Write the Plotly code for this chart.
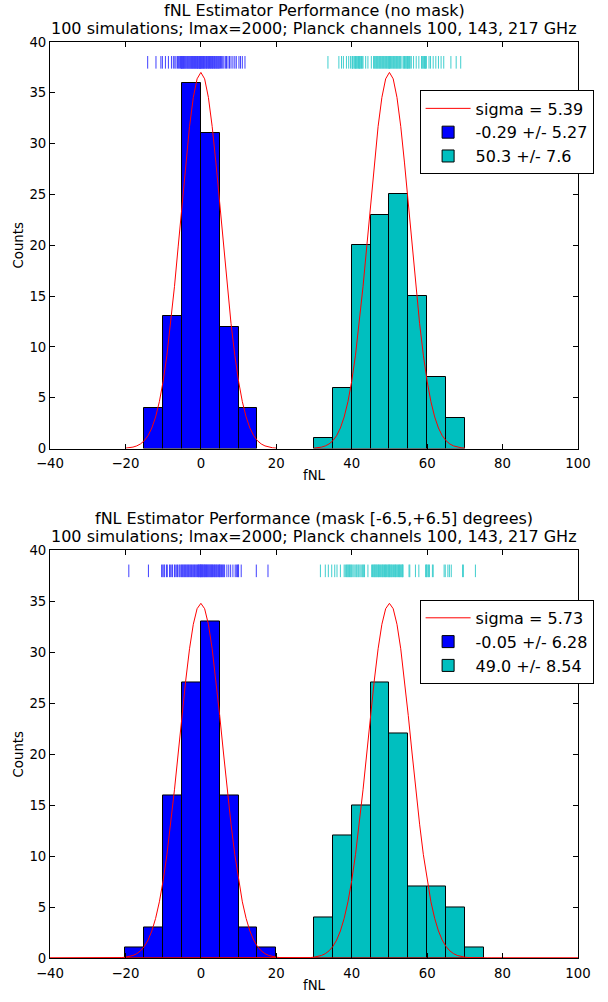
import numpy as np
import plotly.graph_objects as go

# ---------------- data ----------------
bin_width = 5
n_sims = 100
gauss_centers = [0, 50]

# top panel (no mask)
top_blue_bins = [-15, -10, -5, 0, 5, 10]            # left bin edges
top_blue_counts = [4, 13, 36, 31, 12, 4]
top_cyan_bins = [30, 35, 40, 45, 50, 55, 60, 65]
top_cyan_counts = [1, 6, 20, 23, 25, 15, 7, 3]
top_sigma = 5.39
top_labels = ["sigma = 5.39", "-0.29 +/- 5.27", "50.3 +/- 7.6"]
top_title = ["fNL Estimator Performance (no mask)",
             "100 simulations; lmax=2000; Planck channels 100, 143, 217 GHz"]

top_blue_rug = [-14.1, -11.9, -10.6, -10.2,
                -9.4, -8.6, -7.8, -7.3, -6.9, -6.6, -6.2, -5.9, -5.7, -5.4, -5.2, -5.1, -5.05,
                -4.9, -4.8, -4.6, -4.5, -4.3, -4.2, -4.0, -3.9, -3.7, -3.5, -3.4, -3.2, -3.1,
                -2.9, -2.8, -2.6, -2.5, -2.3, -2.2, -2.0, -1.9, -1.7, -1.6, -1.4, -1.3, -1.2,
                -1.0, -0.9, -0.8, -0.7, -0.5, -0.4, -0.3, -0.2, -0.15, -0.05,
                0.1, 0.2, 0.4, 0.5, 0.7, 0.8, 1.0, 1.1, 1.3, 1.5, 1.6, 1.8, 2.0, 2.1, 2.3, 2.5,
                2.6, 2.8, 3.0, 3.1, 3.3, 3.5, 3.6, 3.8, 4.0, 4.1, 4.3, 4.5, 4.6, 4.8, 4.9,
                5.2, 5.5, 5.8, 6.1, 6.5, 6.8, 7.2, 7.6, 8.0, 8.5, 9.0, 9.4,
                10.1, 10.5, 11.0, 11.7]
top_cyan_rug = [33.7,
                36.6, 37.3, 37.8, 38.6, 39.2, 39.7,
                40.1, 40.2, 40.3, 40.6, 40.8, 41.0, 41.1, 41.2, 41.4, 41.6, 41.8, 42.0, 42.1,
                42.2, 42.4, 42.6, 42.8, 43.0, 43.7, 44.3,
                45.2, 45.8, 46.0, 46.2, 46.4, 46.6, 46.8, 47.0, 47.2, 47.4, 47.6, 47.8, 48.0,
                48.2, 48.4, 48.6, 48.8, 49.0, 49.2, 49.4, 49.6, 49.8, 49.9,
                50.0, 50.1, 50.3, 50.5, 50.7, 50.9, 51.1, 51.3, 51.5, 51.7, 51.9, 52.1, 52.3,
                52.5, 52.7, 52.9, 53.1, 53.6, 53.8, 54.0, 54.2, 54.4, 54.6, 54.8, 54.9,
                55.1, 55.3, 55.5, 55.8, 56.4, 57.1, 57.8, 58.5, 58.7, 58.9, 59.1, 59.3, 59.5,
                59.6, 59.8,
                60.5, 60.9, 61.6, 62.3, 63.0, 63.7, 64.4,
                66.3, 67.7, 68.9]

# bottom panel (mask)
bot_blue_bins = [-20, -15, -10, -5, 0, 5, 10, 15]
bot_blue_counts = [1, 3, 16, 27, 33, 16, 3, 1]
bot_cyan_bins = [30, 35, 40, 45, 50, 55, 60, 65, 70]
bot_cyan_counts = [4, 12, 15, 27, 22, 7, 7, 5, 1]
bot_sigma = 5.73
bot_labels = ["sigma = 5.73", "-0.05 +/- 6.28", "49.0 +/- 8.54"]
bot_title = ["fNL Estimator Performance (mask [-6.5,+6.5] degrees)",
             "100 simulations; lmax=2000; Planck channels 100, 143, 217 GHz"]

bot_blue_rug = [-19.1,
                -13.9, -10.4, -10.1,
                -9.8, -9.6, -9.1, -8.9, -8.3, -8.1, -7.7, -7.5, -7.0, -6.8, -6.4, -6.2, -5.8,
                -5.6, -5.3, -5.1,
                -4.9, -4.7, -4.5, -4.3, -4.1, -3.9, -3.7, -3.5, -3.3, -3.1, -2.9, -2.7, -2.5,
                -2.3, -2.1, -1.9, -1.7, -1.5, -1.3, -1.1, -0.9, -0.7, -0.6, -0.5, -0.3, -0.2, -0.1,
                0.0, 0.1, 0.2, 0.4, 0.5, 0.6, 0.8, 0.9, 1.0, 1.2, 1.3, 1.5, 1.6, 1.8, 1.9, 2.1,
                2.2, 2.4, 2.5, 2.7, 2.8, 3.0, 3.1, 3.3, 3.5, 3.6, 3.8, 4.0, 4.1, 4.3, 4.5, 4.7, 4.9,
                5.0, 5.1, 5.3, 5.5, 5.7, 5.9, 6.1, 6.3, 6.9, 7.4, 7.9, 8.5, 9.1, 9.4, 9.7, 9.9,
                10.0, 10.7, 14.7,
                17.8]
bot_cyan_rug = [31.7, 33.0, 33.8, 34.7,
                35.5, 36.1, 37.0, 38.0, 38.3, 38.6, 38.8, 39.0, 39.2, 39.4, 39.6, 39.8,
                40.0, 40.3, 40.6, 40.9, 41.2, 41.4, 41.7, 41.9, 42.2, 42.5, 42.8, 43.0, 43.2,
                43.4, 44.3,
                45.3, 45.5, 45.7, 45.9, 46.0, 46.2, 46.4, 46.5, 46.7, 46.9, 47.1, 47.2, 47.4,
                47.6, 47.8, 48.0, 48.2, 48.3, 48.5, 48.7, 48.9, 49.0, 49.2, 49.4, 49.6, 49.8, 49.9,
                50.0, 50.2, 50.4, 50.5, 50.7, 50.9, 51.1, 51.3, 51.5, 51.6, 51.8, 52.0, 52.2,
                52.4, 52.6, 52.7, 52.9, 53.1, 53.3, 53.4, 53.5, 53.6,
                55.2, 55.4, 56.9, 57.8, 59.6, 59.8, 59.9,
                60.2, 60.4, 60.6, 61.4, 61.6, 64.5, 64.8,
                65.5, 65.9, 66.4, 69.4, 69.6,
                72.8]

rug_level = 38
x_range = [-40, 100]
y_range = [0, 40]
x_ticks = [-40, -20, 0, 20, 40, 60, 80, 100]
y_ticks = [0, 5, 10, 15, 20, 25, 30, 35, 40]

# ---------------- styling ----------------
BLUE = "#0000ff"
CYAN = "#00bfbf"
RED = "#ff0000"
FONT = "DejaVu Sans"

fig = go.Figure()


def gauss(xs, mu, sigma):
    amp = n_sims * bin_width / (np.sqrt(2 * np.pi) * sigma)
    return amp * np.exp(-0.5 * ((xs - mu) / sigma) ** 2)


def add_panel(xa, ya, legend, blue_bins, blue_counts, cyan_bins, cyan_counts,
              sigma, labels, blue_rug, cyan_rug, curve_spans):
    # rugs
    for vals, col in ((blue_rug, BLUE), (cyan_rug, CYAN)):
        fig.add_trace(go.Scatter(
            x=vals, y=[rug_level] * len(vals), mode="markers", xaxis=xa, yaxis=ya,
            marker=dict(symbol="line-ns-open", size=9, color=col, line=dict(color=col, width=1)),
            opacity=0.75, showlegend=False, hoverinfo="skip"))
    # histograms
    fig.add_trace(go.Bar(
        x=[b + bin_width / 2 for b in blue_bins], y=blue_counts, width=bin_width,
        marker=dict(color=BLUE, line=dict(color="black", width=1)),
        xaxis=xa, yaxis=ya, name=labels[1], legend=legend, legendrank=2))
    fig.add_trace(go.Bar(
        x=[b + bin_width / 2 for b in cyan_bins], y=cyan_counts, width=bin_width,
        marker=dict(color=CYAN, line=dict(color="black", width=1)),
        xaxis=xa, yaxis=ya, name=labels[2], legend=legend, legendrank=3))
    # gaussian curves
    for i, (mu, span) in enumerate(zip(gauss_centers, curve_spans)):
        xs = np.arange(span[0], span[1] + 0.5, 1.0)
        fig.add_trace(go.Scatter(
            x=xs, y=gauss(xs, mu, sigma), mode="lines", line=dict(color=RED, width=1),
            xaxis=xa, yaxis=ya, name=labels[0], legend=legend, legendrank=1,
            showlegend=(i == 0), hoverinfo="skip"))


add_panel("x", "y", "legend", top_blue_bins, top_blue_counts, top_cyan_bins, top_cyan_counts,
          top_sigma, top_labels, top_blue_rug, top_cyan_rug, [(-20, 20), (30, 70)])
add_panel("x2", "y2", "legend2", bot_blue_bins, bot_blue_counts, bot_cyan_bins, bot_cyan_counts,
          bot_sigma, bot_labels, bot_blue_rug, bot_cyan_rug, [(-40, 100), (-40, 100)])

axis_common = dict(showline=True, linecolor="black", linewidth=1, mirror="allticks",
                   ticks="inside", ticklen=5, tickwidth=1, tickcolor="black",
                   showgrid=False, zeroline=False,
                   tickfont=dict(family=FONT, size=13.3, color="black"))
xaxis_common = dict(axis_common, range=x_range, tickvals=x_ticks, ticklabelstandoff=3,
                    title=dict(text="fNL", font=dict(size=13.3), standoff=0))
yaxis_common = dict(axis_common, range=y_range, tickvals=y_ticks,
                    title=dict(text="Counts", font=dict(size=13.3), standoff=2))

# plot area: 50..578 px horizontally, 42..968 px vertically
top_dom = [0.5562, 1.0]
bot_dom = [0.0, 0.4449]


def py(px):
    """pixel row -> paper y"""
    return (968 - px) / 926


legend_common = dict(xanchor="left", yanchor="top", bgcolor="white",
                     bordercolor="black", borderwidth=1, itemwidth=45,
                     font=dict(family=FONT, size=16), tracegroupgap=0,
                     traceorder="normal")

annotations = []
for title, rows in ((top_title, (10, 28)), (bot_title, (524, 542))):
    for line, row in zip(title, rows):
        annotations.append(dict(text=line, xref="paper", yref="paper", x=0.5, y=py(row),
                                xanchor="center", yanchor="middle", showarrow=False,
                                font=dict(family=FONT, size=16)))

fig.update_layout(
    width=608, height=1002,
    margin=dict(l=50, r=30, t=42, b=34),
    paper_bgcolor="white", plot_bgcolor="white",
    bargap=0, barmode="overlay",
    font=dict(family=FONT, color="black"),
    xaxis=dict(xaxis_common, anchor="y", domain=[0, 1]),
    yaxis=dict(yaxis_common, anchor="x", domain=top_dom),
    xaxis2=dict(xaxis_common, anchor="y2", domain=[0, 1]),
    yaxis2=dict(yaxis_common, anchor="x2", domain=bot_dom),
    legend=dict(legend_common, x=0.70, y=py(91)),
    legend2=dict(legend_common, x=0.70, y=py(606)),
    annotations=annotations,
)

fig.write_html("out.html")
